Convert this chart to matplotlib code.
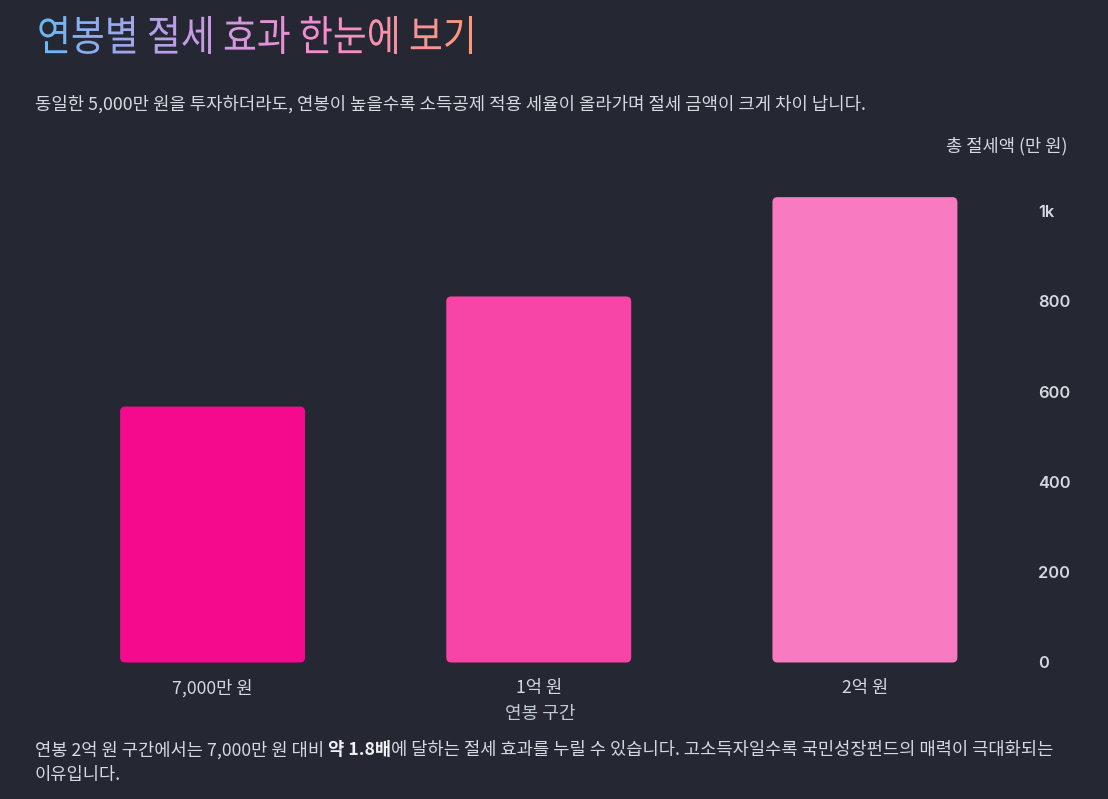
import numpy as np
import matplotlib
matplotlib.use("Agg")
import matplotlib.pyplot as plt
from matplotlib.patches import FancyBboxPatch, PathPatch
from matplotlib.textpath import TextPath
from matplotlib.font_manager import FontProperties
from matplotlib.colors import LinearSegmentedColormap
from matplotlib.transforms import Affine2D
from matplotlib.ticker import FuncFormatter

W, H = 1108, 799
BG = "#252833"
TXT = "#d5dae1"
SUB = "#c3c9d2"

# data
categories = ["7,000만 원", "1억 원", "2억 원"]
savings = [567, 811, 1031]
bar_colors = ["#f50a8e", "#f645a6", "#f87bc2"]
y_ticks = [0, 200, 400, 600, 800, 1000]

title = "연봉별 절세 효과 한눈에 보기"
title_stops = ["#6ab8f7", "#c39ce6", "#f78ccf", "#fd9877"]
subtitle = "동일한 5,000만 원을 투자하더라도, 연봉이 높을수록 소득공제 적용 세율이 올라가며 절세 금액이 크게 차이 납니다."
y_label = "총 절세액 (만 원)"
x_label = "연봉 구간"
note_parts = [("연봉 2억 원 구간에서는 7,000만 원 대비 ", "normal"),
              ("약 1.8배", "bold"),
              ("에 달하는 절세 효과를 누릴 수 있습니다. 고소득자일수록 국민성장펀드의 매력이 극대화되는", "normal")]
note_line2 = "이유입니다."

KR = ["Noto Sans CJK KR", "DejaVu Sans"]
NUM = ["Inter", "Noto Sans CJK KR", "DejaVu Sans"]
plt.rcParams["font.family"] = KR

fig = plt.figure(figsize=(W / 100, H / 100), dpi=100, facecolor=BG)

# overlay axes in pixel units (y measured from bottom)
bg = fig.add_axes([0, 0, 1, 1], zorder=5)
bg.set_xlim(0, W); bg.set_ylim(0, H); bg.axis("off")
bg.patch.set_alpha(0)

# gradient title: text outline used as clip path for a gradient image
tp = TextPath((0, 0), title, size=40, prop=FontProperties(family="Noto Sans CJK KR", weight="light"))
v = tp.vertices
x0, x1, y0, y1 = 37, 472, H - 54, H - 16
sx = (x1 - x0) / (v[:, 0].max() - v[:, 0].min())
sy = (y1 - y0) / (v[:, 1].max() - v[:, 1].min())
tr = Affine2D().translate(-v[:, 0].min(), -v[:, 1].min()).scale(sx, sy).translate(x0, y0)
tpath = tr.transform_path(tp)
clip = PathPatch(tpath, transform=bg.transData, facecolor="none", edgecolor="none")
bg.add_patch(clip)
cmap = LinearSegmentedColormap.from_list("title", title_stops)
img = bg.imshow(np.linspace(0, 1, 256)[None, :], cmap=cmap, aspect="auto",
                extent=[x0, x1, y0, y1], origin="lower", interpolation="bilinear")
img.set_clip_path(clip)
bg.set_xlim(0, W); bg.set_ylim(0, H)

FS = 12.7
bg.text(35, H - 104, subtitle, fontsize=12.8, color=TXT, va="center", ha="left", weight="medium")
bg.text(1067, H - 146, y_label, fontsize=FS, color=TXT, va="center", ha="right", weight="medium")
bg.text(540, H - 714, x_label, fontsize=13, color=SUB, va="center", ha="center")

# footer note with a bold part
prev = bg.text(35, H - 750, note_parts[0][0], fontsize=FS, color=TXT, va="center", ha="left", weight="medium")
for s, w in note_parts[1:]:
    prev = bg.annotate(s, xy=(1, 0), xycoords=prev, va="bottom", ha="left",
                       fontsize=FS, color="#eef0f3" if w == "bold" else TXT,
                       weight="bold" if w == "bold" else "medium")
bg.text(35, H - 775, note_line2, fontsize=FS, color=TXT, va="center", ha="left", weight="medium")

# main chart
ax = fig.add_axes([49.5 / W, (H - 662.5) / H, (1028 - 49.5) / W, 482.5 / H])
ax.set_facecolor(BG)
xs = np.arange(len(categories))
bars = ax.bar(xs, savings, width=0.567, color=bar_colors)
ax.set_xlim(-0.5, len(categories) - 0.5)
ax.set_ylim(0, 1069)

# rounded corners (5 px)
p0, p1 = ax.transData.transform([(0, 0), (1, 1)])
px_x, px_y = p1[0] - p0[0], p1[1] - p0[1]
r = 5
for b, c in zip(bars, bar_colors):
    bx, by, bw, bh = b.get_x(), b.get_y(), b.get_width(), b.get_height()
    b.remove()
    ax.add_patch(FancyBboxPatch((bx, by), bw, bh,
                                boxstyle=f"round,pad=0,rounding_size={r / px_x}",
                                mutation_aspect=px_x / px_y, facecolor=c, edgecolor="none"))

for sp in ax.spines.values():
    sp.set_visible(False)
ax.set_xticks(xs, categories)
ax.tick_params(axis="x", length=0, pad=12, labelsize=FS, labelcolor=TXT)
for lbl in ax.get_xticklabels():
    lbl.set_fontweight("medium")

ax.yaxis.tick_right()
ax.set_yticks(y_ticks)
ax.yaxis.set_major_formatter(FuncFormatter(lambda val, pos: "1k" if val >= 1000 else f"{int(val)}"))
ax.tick_params(axis="y", length=0, pad=7, labelsize=11.8, labelcolor=TXT)
for lbl in ax.get_yticklabels():
    lbl.set_fontfamily(NUM)
    lbl.set_fontweight("semibold")

fig.savefig("out.png", dpi=100, facecolor=BG)
